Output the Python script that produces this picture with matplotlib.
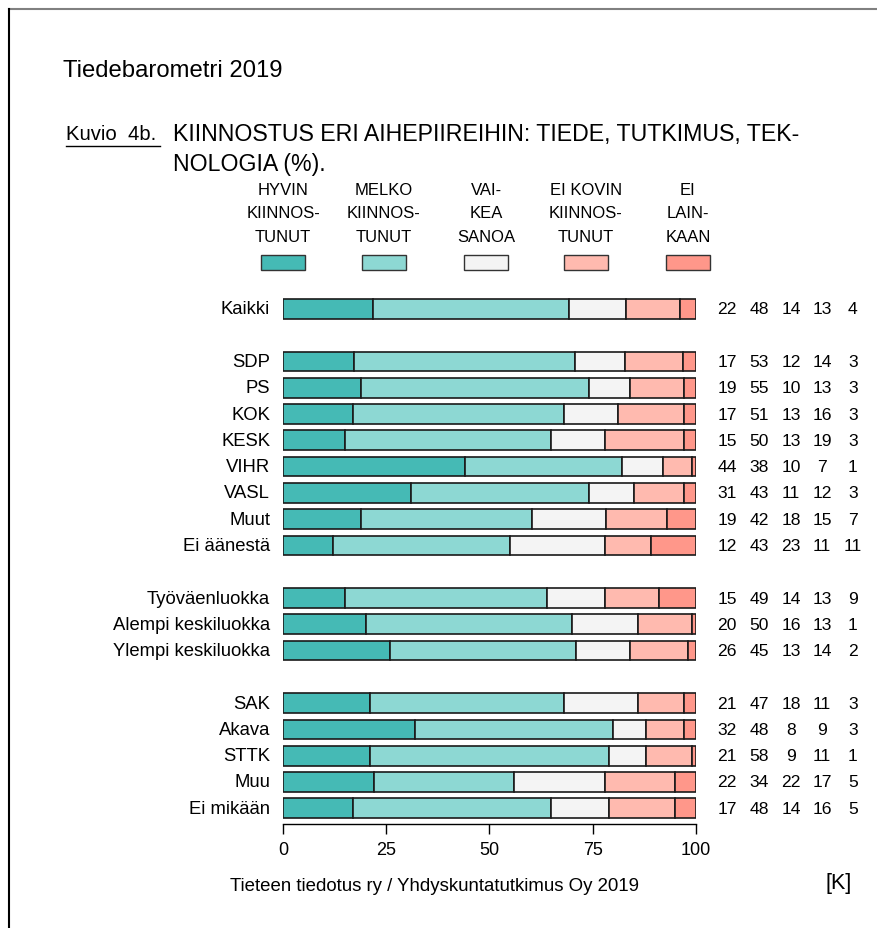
import matplotlib
matplotlib.use("Agg")
import matplotlib.pyplot as plt
from matplotlib.lines import Line2D
from matplotlib.patches import Rectangle
import numpy as np

categories = ["Kaikki",
              "SDP", "PS", "KOK", "KESK", "VIHR", "VASL", "Muut", "Ei äänestä",
              "Työväenluokka", "Alempi keskiluokka", "Ylempi keskiluokka",
              "SAK", "Akava", "STTK", "Muu", "Ei mikään"]
positions = [0, 2, 3, 4, 5, 6, 7, 8, 9, 11, 12, 13, 15, 16, 17, 18, 19]

hyvin    = [22, 17, 19, 17, 15, 44, 31, 19, 12, 15, 20, 26, 21, 32, 21, 22, 17]
melko    = [48, 53, 55, 51, 50, 38, 43, 42, 43, 49, 50, 45, 47, 48, 58, 34, 48]
vaikea   = [14, 12, 10, 13, 13, 10, 11, 18, 23, 14, 16, 13, 18, 8, 9, 22, 14]
eikovin  = [13, 14, 13, 16, 19, 7, 12, 15, 11, 13, 13, 14, 11, 9, 11, 17, 16]
eilain   = [4, 3, 3, 3, 3, 1, 3, 7, 11, 9, 1, 2, 3, 3, 1, 5, 5]

legend_labels = ["HYVIN\nKIINNOS-\nTUNUT", "MELKO\nKIINNOS-\nTUNUT", "VAI-\nKEA\nSANOA",
                 "EI KOVIN\nKIINNOS-\nTUNUT", "EI\nLAIN-\nKAAN"]
colors = ["#45BAB5", "#8DD8D3", "#F4F4F4", "#FFBAAF", "#FF978A"]
xticks = [0, 25, 50, 75, 100]

W, H = 878, 929
fig = plt.figure(figsize=(W / 100, H / 100), dpi=100)
narrow = ["Liberation Sans Narrow", "Liberation Sans", "DejaVu Sans"]
regular = ["Liberation Sans", "DejaVu Sans"]

def fx(px):
    return px / W

def fy(py):
    return 1 - py / H

# page border lines
fig.add_artist(Line2D([fx(9.5), 1], [fy(9.5), fy(9.5)], color="#808080", lw=1.5,
                      transform=fig.transFigure))
fig.add_artist(Line2D([fx(9.5), fx(9.5)], [fy(9.5), 0], color="black", lw=1.5,
                      transform=fig.transFigure))

# titles
fig.text(fx(63), fy(71), "Tiedebarometri 2019", family=narrow, fontsize=17.2,
         ha="left", va="center")
fig.text(fx(66), fy(135), "Kuvio  4b.", family=narrow, fontsize=14.6,
         ha="left", va="center")
fig.add_artist(Line2D([fx(66), fx(160)], [fy(147), fy(147)], color="black", lw=1,
                      transform=fig.transFigure))
fig.text(fx(173), fy(135), "KIINNOSTUS ERI AIHEPIIREIHIN: TIEDE, TUTKIMUS, TEK-",
         family=narrow, fontsize=16.7, ha="left", va="center")
fig.text(fx(173), fy(164), "NOLOGIA (%).", family=narrow, fontsize=16.7,
         ha="left", va="center")

# axes
top_px, bot_px = 294.2, 825
ax = fig.add_axes([fx(283), fy(bot_px), fx(696) - fx(283), (bot_px - top_px) / H])
ax.set_xlim(0, 100)
ax.set_ylim(19.6, -0.6)

series = [hyvin, melko, vaikea, eikovin, eilain]
totals = np.sum(np.array(series), axis=0)
left = np.zeros(len(categories))
for vals, col in zip(series, colors):
    w = np.array(vals) / totals * 100
    ax.barh(positions, w, left=left, height=0.75, color=col,
            edgecolor="#1a1a1a", linewidth=1.2)
    left += w

for sp in ["top", "right", "left"]:
    ax.spines[sp].set_visible(False)
ax.spines["bottom"].set_bounds(0, 100)
ax.spines["bottom"].set_linewidth(1.0)
ax.set_yticks([])
ax.set_xticks(xticks)
ax.set_xticklabels([str(t) for t in xticks], family=regular, fontsize=13)
ax.tick_params(axis="x", direction="out", length=7, width=1, pad=5)

# category labels
for p, c in zip(positions, categories):
    ax.text(-3.1, p, c, family=regular, fontsize=13.3, ha="right", va="center")

# value columns
col_x = [727, 759, 791, 822, 853]
for i, p in enumerate(positions):
    for j, vals in enumerate(series):
        ax.text(100 + (col_x[j] - 696) / 4.13, p, str(vals[i]), family=regular,
                fontsize=12.6, ha="center", va="center", clip_on=False)

# legend
leg_cx = [283, 384, 486, 586, 688]
for cx, lab, col in zip(leg_cx, legend_labels, colors):
    fig.text(fx(cx), fy(214), lab, family=narrow, fontsize=12, ha="center",
             va="center", linespacing=1.68, multialignment="center")
    fig.add_artist(Rectangle((fx(cx - 22), fy(270.5)), fx(44), 15 / H,
                             facecolor=col, edgecolor="#333333", lw=1,
                             transform=fig.transFigure))

# footer
fig.text(fx(230), fy(887), "Tieteen tiedotus ry / Yhdyskuntatutkimus Oy 2019",
         family=narrow, fontsize=13.4, ha="left", va="center")
fig.text(fx(852), fy(884), "[K]", family=narrow, fontsize=15.5, ha="right", va="center")

fig.savefig("out.png", dpi=100)
